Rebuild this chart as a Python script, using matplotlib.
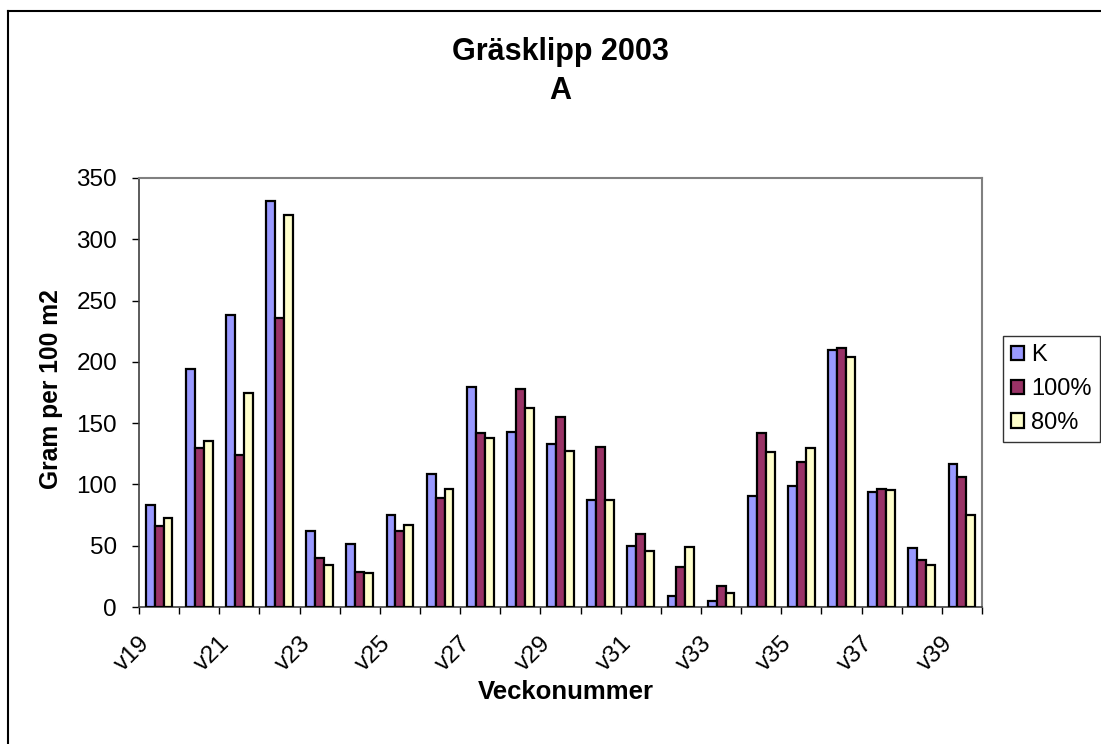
import matplotlib
matplotlib.use("Agg")
import matplotlib.pyplot as plt
import matplotlib.transforms as mtransforms
from matplotlib.lines import Line2D
import numpy as np

plt.rcParams['font.family'] = ['Liberation Sans', 'DejaVu Sans']

weeks = [f"v{w}" for w in range(19, 40)]
k_vals = [83.6, 193.8, 238.4, 331.2, 61.8, 51.7, 75.4, 108.3, 179.4, 142.9, 132.8,
          87.6, 49.8, 9.3, 5.3, 90.9, 98.8, 209.3, 93.6, 48.4, 116.5]
p100_vals = [66.1, 129.8, 123.8, 236.0, 40.3, 28.6, 62.3, 89.3, 141.8, 178.0, 155.4,
             130.9, 59.3, 32.4, 17.1, 141.8, 118.4, 211.5, 96.4, 38.6, 106.1]
p80_vals = [72.9, 135.3, 174.2, 319.8, 34.3, 27.5, 67.0, 96.6, 137.5, 162.2, 127.1,
            87.6, 45.5, 48.7, 11.4, 126.8, 129.6, 203.6, 95.8, 34.0, 75.4]
series_names = ["K", "100%", "80%"]
colors = ["#9999FF", "#993366", "#FFFFCC"]

W, H = 1101, 744
fig = plt.figure(figsize=(W / 100, H / 100), dpi=100)
fig.patch.set_facecolor("white")

x0, x1, ytop, ybot = 139, 982, 178, 607
ax = fig.add_axes([x0 / W, 1 - ybot / H, (x1 - x0) / W, (ybot - ytop) / H])

x = np.arange(len(weeks))
bw = 1 / 4.5
for i, (vals, name, c) in enumerate(zip([k_vals, p100_vals, p80_vals], series_names, colors)):
    ax.bar(x + (i - 1) * bw, vals, width=bw, color=c, edgecolor="black",
           linewidth=1.6, label=name, zorder=3)

ax.set_xlim(-0.5, len(weeks) - 0.5)
ax.set_ylim(0, 350)
ax.set_yticks(np.arange(0, 351, 50))
ax.tick_params(axis="y", direction="out", length=5, width=1, pad=10.8, labelsize=17.5)

# category boundary ticks
ax.set_xticks(np.arange(-0.5, len(weeks), 1.0))
ax.set_xticklabels([])
ax.tick_params(axis="x", which="major", direction="out", length=5, width=1)
ax.set_xticks(x[::2], minor=True)
ax.set_xticklabels(weeks[::2], minor=True, rotation=45, ha="right", fontsize=17.5)
ax.tick_params(axis="x", which="minor", length=0, pad=18)
offset = mtransforms.ScaledTranslation(-5 / 100, 0, fig.dpi_scale_trans)
for lab in ax.get_xticklabels(minor=True):
    lab.set_transform(lab.get_transform() + offset)

for s in ["top", "right"]:
    ax.spines[s].set_color("#808080")
    ax.spines[s].set_linewidth(1.5)
for s in ["left", "bottom"]:
    ax.spines[s].set_color("#404040")
    ax.spines[s].set_linewidth(1.2)

fig.text(560 / W, 1 - 52 / H, "Gräsklipp 2003", ha="center", va="center",
         fontsize=22, fontweight="bold")
fig.text(560 / W, 1 - 91 / H, "A", ha="center", va="center",
         fontsize=22, fontweight="bold")
fig.text(566 / W, 1 - 692 / H, "Veckonummer", ha="center", va="center",
         fontsize=18.5, fontweight="bold")
fig.text(51 / W, 1 - 389 / H, "Gram per 100 m2", ha="center", va="center",
         rotation=90, fontsize=17.7, fontweight="bold")

leg = fig.legend(loc="upper left", bbox_to_anchor=(1003 / W, 1 - 336 / H),
                 fontsize=17, frameon=True, fancybox=False, shadow=False,
                 handlelength=0.55, handleheight=0.55, handletextpad=0.3,
                 labelspacing=0.5, borderpad=0.35, borderaxespad=0)
leg.get_frame().set_edgecolor("black")
leg.get_frame().set_linewidth(1.0)

# outer chart border (top and left visible)
fig.add_artist(Line2D([7.5 / W, 1.0], [1 - 11 / H, 1 - 11 / H], color="black",
                      linewidth=1.5, transform=fig.transFigure))
fig.add_artist(Line2D([7.5 / W, 7.5 / W], [0.0, 1 - 11 / H], color="black",
                      linewidth=1.5, transform=fig.transFigure))

fig.savefig("out.png", dpi=100)
